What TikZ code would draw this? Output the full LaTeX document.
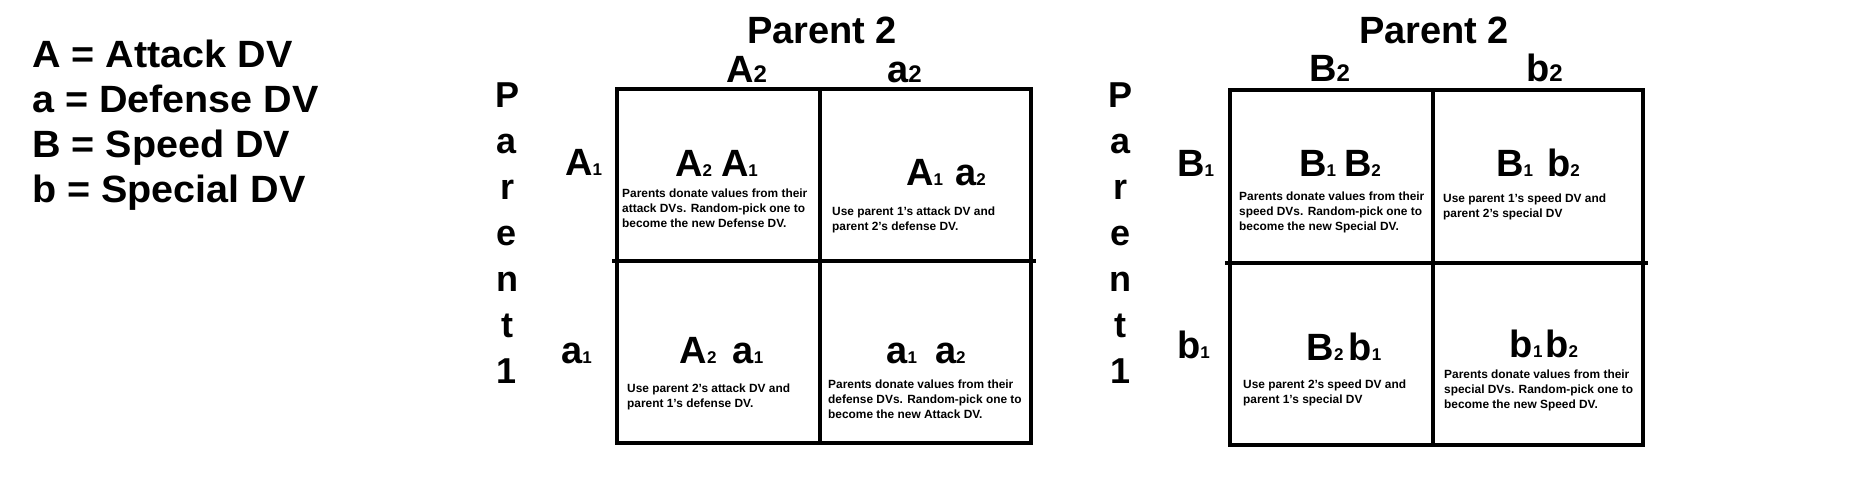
\documentclass[tikz,border=0pt]{standalone}
\usepackage{fontspec}
\setmainfont{Liberation Sans}
\newfontface\legendface{Liberation Sans Bold}[FakeStretch=1.04]
\newcommand\colsub[1]{{\fontsize{24}{24}\selectfont #1}}
\newcommand\rowsub[1]{{\fontsize{17}{17}\selectfont #1}}
\tikzset{
  big/.style={font=\fontsize{38}{38}\selectfont\bfseries, inner sep=0pt},
  legend/.style={font=\fontsize{38}{38}\selectfont\legendface, inner sep=0pt, anchor=base west},
  vert/.style={font=\fontsize{36}{36}\selectfont\bfseries, inner sep=0pt, anchor=base},
  note/.style={font=\fontsize{11.9}{15}\selectfont\bfseries, align=left, inner sep=0pt, anchor=base west},
  gridline/.style={line width=4.5pt, line cap=rect},
}
\begin{document}
\begin{tikzpicture}[x=1pt,y=-1pt]
\useasboundingbox[fill=white] (0,0) rectangle (1854,479);
% legend
\node[legend] (l1) at (32,67) {A = Attack DV};
\node[legend] (l2) at (32,112) {a = Defense DV};
\node[legend] (l3) at (32,157) {B = Speed DV};
\node[legend] (l4) at (32,202) {b = Special DV};
% ---------- grid 1 ----------
\draw[gridline] (617,89) rectangle (1031,443);
\draw[gridline] (820,89) -- (820,443);
\draw[gridline] (614,261) -- (1034,261);
\node[big, anchor=base] (t1) at (822,43) {Parent 2};
\foreach \c [count=\i] in {P,a,r,e,n,t,1} {
  \node[vert] (pa\i) at (507,{107+46*(\i-1)}) {\c};
}
\node[big, anchor=base west] (c1) at (726,82) {A\colsub{2}};
\node[big, anchor=base west] (c2) at (887,82) {a\colsub{2}};
\node[big, anchor=base west] (r1) at (565,175) {A\rowsub{1}};
\node[big, anchor=base west] (r2) at (561,363) {a\rowsub{1}};
\node[big, anchor=base] (g11) at (716.5,176) {A\rowsub{2}\hspace{9pt}A\rowsub{1}};
\node[big, anchor=base] (g12) at (946,185) {A\rowsub{1}\hspace{12pt}a\rowsub{2}};
\node[big, anchor=base] (g21) at (721.5,363) {A\rowsub{2}\hspace{16pt}a\rowsub{1}};
\node[big, anchor=base] (g22) at (926,363) {a\rowsub{1}\hspace{18pt}a\rowsub{2}};
% note nodes: anchor base = baseline of the last line
\node[note] (n11) at (622,227) {Parents donate values from their\\attack DVs. Random-pick one to\\become the new Defense DV.};
\node[note] (n12) at (832,230) {Use parent 1's attack DV and\\parent 2's defense DV.};
\node[note] (n21) at (627,407) {Use parent 2's attack DV and\\parent 1's defense DV.};
\node[note] (n22) at (828,418) {Parents donate values from their\\defense DVs. Random-pick one to\\become the new Attack DV.};
% ---------- grid 2 ----------
\draw[gridline] (1230,90) rectangle (1643,445);
\draw[gridline] (1433,90) -- (1433,445);
\draw[gridline] (1227,263) -- (1646,263);
\node[big, anchor=base] (t2) at (1434,43) {Parent 2};
\foreach \c [count=\i] in {P,a,r,e,n,t,1} {
  \node[vert] (pb\i) at (1120,{107+46*(\i-1)}) {\c};
}
\node[big, anchor=base west] (d1) at (1309,81) {B\colsub{2}};
\node[big, anchor=base west] (d2) at (1526,81) {b\colsub{2}};
\node[big, anchor=base west] (s1) at (1177,176) {B\rowsub{1}};
\node[big, anchor=base west] (s2) at (1177,358) {b\rowsub{1}};
\node[big, anchor=base] (h11) at (1340,176) {B\rowsub{1}\hspace{8pt}B\rowsub{2}};
\node[big, anchor=base] (h12) at (1538,176) {B\rowsub{1}\hspace{14pt}b\rowsub{2}};
\node[big, anchor=base] (h21) at (1344,360) {B\rowsub{2}\hspace{5pt}b\rowsub{1}};
\node[big, anchor=base] (h22) at (1544,357) {b\rowsub{1}\hspace{3pt}b\rowsub{2}};
\node[note] (m11) at (1239,230) {Parents donate values from their\\speed DVs. Random-pick one to\\become the new Special DV.};
\node[note] (m12) at (1443,217) {Use parent 1's speed DV and\\parent 2's special DV};
\node[note] (m21) at (1243,403) {Use parent 2's speed DV and\\parent 1's special DV};
\node[note] (m22) at (1444,408) {Parents donate values from their\\special DVs. Random-pick one to\\become the new Speed DV.};
\end{tikzpicture}
\end{document}
